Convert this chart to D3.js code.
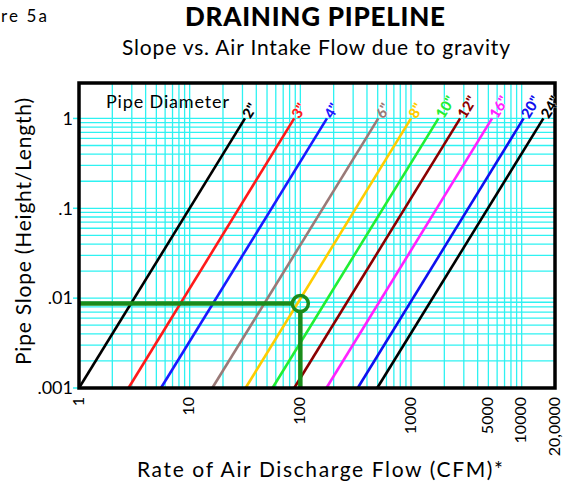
<!DOCTYPE html>
<html><head><meta charset="utf-8">
<script src="https://cdn.jsdelivr.net/npm/d3@7"></script>
<style>
html,body{margin:0;padding:0;background:#fff;}
svg{display:block;font-family:Lato, "Open Sans", sans-serif;}
</style></head>
<body>
<svg id="chart" width="563" height="485"></svg>
<script>
// ---- data ----
const pipeSizes = ['2"', '3"', '4"', '6"', '8"', '10"', '12"', '16"', '20"', '24"'];
const pipeColors = ['#000000', '#ff1a1a', '#1a1aff', '#9a7a78', '#ffcc00', '#22ee33', '#8b0000', '#ff22ff', '#1010ee', '#000000'];
const flowAtMinSlope = [1, 2.8, 5.5, 16, 32, 56, 88, 172, 330, 495];      // CFM at slope .001
const flowAtMaxSlope = [31.6, 88, 174, 506, 1000, 1770, 2780, 5400, 10400, 15700]; // CFM at slope 1
const minSlope = 0.001, maxSlope = 1;
const xTickValues = [1, 10, 100, 1000, 5000, 10000, 20000];
const xTickLabels = ['1', '10', '100', '1000', '5000', '10000', '20,0000'];
const yTickValues = [1, 0.1, 0.01, 0.001];
const yTickLabels = ['1', '.1', '.01', '.001'];
const exampleFlow = [100];
const exampleSlope = [0.0087];

const svg = d3.select('#chart');
const x = d3.scaleLog().domain([1, 20000]).range([79, 555]);
const y = d3.scaleLog().domain([0.001, 2.48]).range([388, 83]);

// grid
const gridX = [];
for (let d = 1; d < 20000; d *= 10) for (let k = 1; k < 10; k++) { const v = d * k; if (v <= 20000) gridX.push(v); }
const gridY = [];
for (let d = 0.001; d < 1; d *= 10) for (let k = 1; k < 10; k++) gridY.push(d * k);
gridY.push(1);

const grid = svg.append('g').attr('stroke', '#2ef2f2').attr('stroke-width', 1.3);
grid.selectAll('line.v').data(gridX).join('line').attr('class', 'v')
  .attr('x1', d => x(d)).attr('x2', d => x(d)).attr('y1', y.range()[1]).attr('y2', y.range()[0]);
grid.selectAll('line.h').data(gridY).join('line').attr('class', 'h')
  .attr('x1', x.range()[0]).attr('x2', x.range()[1]).attr('y1', d => y(d)).attr('y2', d => y(d));

// y ticks (cyan stubs)
svg.append('g').selectAll('line').data(yTickValues).join('line')
  .attr('x1', x.range()[0] - 6).attr('x2', x.range()[0]).attr('y1', d => y(d)).attr('y2', d => y(d))
  .attr('stroke', '#2ef2f2').attr('stroke-width', 1.5);

// pipe lines
const lines = pipeSizes.map((p, i) => ({ name: p, color: pipeColors[i], pts: [[flowAtMinSlope[i], minSlope], [flowAtMaxSlope[i], maxSlope]] }));
const lineGen = d3.line().x(d => x(d[0])).y(d => y(d[1]));
svg.append('g').selectAll('path').data(lines).join('path')
  .attr('d', d => lineGen(d.pts)).attr('fill', 'none')
  .attr('stroke', d => d.color).attr('stroke-width', 2.6);

// example (green)
const gx = x(exampleFlow[0]), gy = y(exampleSlope[0]), r = 8;
const ex = svg.append('g').attr('stroke', '#1a8c1a').attr('stroke-width', 4.5).attr('fill', 'none');
ex.append('line').attr('x1', x.range()[0]).attr('x2', gx - r).attr('y1', gy).attr('y2', gy);
ex.append('line').attr('x1', gx).attr('x2', gx).attr('y1', gy + r).attr('y2', y.range()[0]);
ex.append('circle').attr('cx', gx).attr('cy', gy).attr('r', r).attr('stroke-width', 3.5);

// frame
svg.append('rect').attr('x', x.range()[0]).attr('y', y.range()[1])
  .attr('width', x.range()[1] - x.range()[0]).attr('height', y.range()[0] - y.range()[1])
  .attr('fill', 'none').attr('stroke', '#000').attr('stroke-width', 3.5);

// labels along lines
svg.append('g').selectAll('text').data(lines).join('text')
  .each(function (d) {
    const x0 = x(d.pts[0][0]), y0 = y(d.pts[0][1]), x1 = x(d.pts[1][0]), y1 = y(d.pts[1][1]);
    const ang = Math.atan2(y1 - y0, x1 - x0);
    const px = x1 + Math.cos(ang) * 2, py = y1 + Math.sin(ang) * 2;
    d3.select(this).attr('transform', `translate(${px},${py}) rotate(${ang * 180 / Math.PI})`)
      .attr('dy', '0.35em');
  })
  .attr('fill', d => d.color).attr('font-size', 14.5).attr('font-weight', 900)
  .attr('stroke', '#fff').attr('stroke-width', 0.6).attr('paint-order', 'stroke')
  .text(d => d.name);

// y tick labels
svg.append('g').selectAll('text').data(yTickValues).join('text')
  .attr('x', x.range()[0] - 6).attr('y', d => y(d)).attr('dy', '0.35em')
  .attr('text-anchor', 'end').attr('font-size', 18).text((d, i) => yTickLabels[i]);

// x tick labels
svg.append('g').selectAll('text').data(xTickValues).join('text')
  .attr('transform', d => `translate(${x(d)},${y.range()[0] + 9}) rotate(-90)`)
  .attr('dy', '0.3em').attr('text-anchor', 'end').attr('font-size', 16)
  .text((d, i) => xTickLabels[i]);

// titles
svg.append('text').attr('x', 1).attr('y', 22).attr('font-size', 17).attr('textLength', 46).text('re 5a');
svg.append('text').attr('x', 185).attr('y', 26)
  .attr('font-size', 26).attr('font-weight', 900).attr('textLength', 260).text('DRAINING PIPELINE');
svg.append('text').attr('x', 122).attr('y', 55)
  .attr('font-size', 21).attr('textLength', 388).text('Slope vs. Air Intake Flow due to gravity');
svg.append('text').attr('x', 106).attr('y', 108).attr('font-size', 18).attr('textLength', 123).text('Pipe Diameter');
svg.append('text').attr('x', 137).attr('y', 477)
  .attr('font-size', 21).attr('textLength', 366).text('Rate of Air Discharge Flow (CFM)*');
svg.append('text').attr('transform', 'translate(31,365) rotate(-90)')
  .attr('font-size', 21).attr('textLength', 267).text('Pipe Slope (Height/Length)');
</script>
</body></html>
